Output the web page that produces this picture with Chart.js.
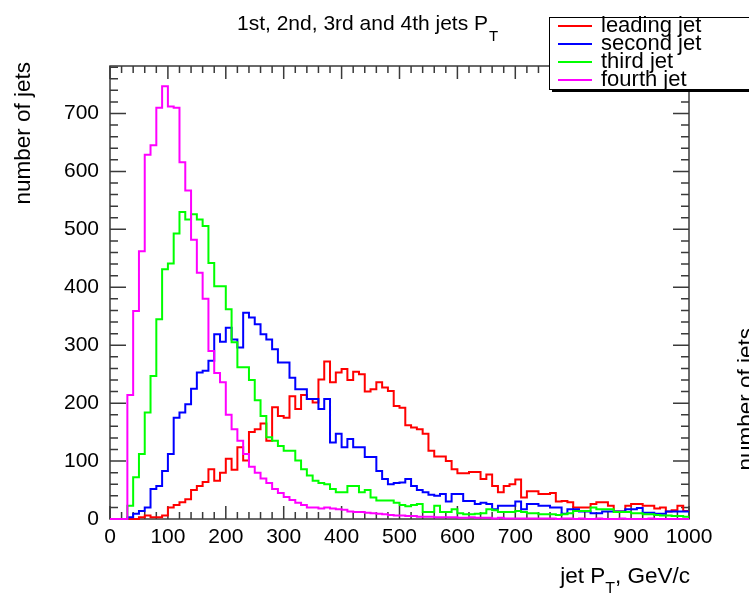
<!DOCTYPE HTML>
<html>
	<head>
		<title>Jet pT spectra</title>
		<meta charset="utf-8" />
		<style>
			html, body { margin: 0; padding: 0; background: #fff; }
			#wrap { width: 749px; height: 593px; }
		</style>
	</head>
	<body>
		<div id="wrap"><canvas id="jets" width="749" height="593"></canvas></div>

		<script src="https://cdn.jsdelivr.net/npm/chart.js"></script>
		<script>
			// histogram: 100 bins of 10 GeV from 0 to 1000
			const binWidth = 10;
			const seriesNames = ["leading jet", "second jet", "third jet", "fourth jet"];
			const seriesColors = ["#ff0000", "#0000ff", "#00ff00", "#ff00ff"];
			const xTicks = [0, 100, 200, 300, 400, 500, 600, 700, 800, 900, 1000];
			const yTicks = [0, 100, 200, 300, 400, 500, 600, 700];

			const leadingJet = [
				0, 0, 0, 0, 0, 3, 6, 3, 3, 6,
				20, 24, 29, 34, 50, 57, 64, 86, 66, 80,
				104, 85, 124, 101, 150, 155, 165, 135, 193, 178,
				175, 212, 190, 214, 207, 201, 241, 272, 236, 253,
				259, 240, 254, 250, 220, 224, 236, 227, 221, 195,
				192, 162, 158, 155, 147, 118, 108, 108, 100, 86,
				79, 79, 81, 81, 69, 77, 57, 46, 57, 60,
				68, 37, 48, 48, 43, 43, 45, 30, 31, 29,
				20, 20, 20, 26, 29, 29, 23, 13, 13, 23,
				26, 26, 23, 23, 18, 20, 13, 15, 23, 14
			];
			const secondJet = [
				0, 0, 0, 3, 9, 14, 20, 52, 57, 83,
				112, 175, 184, 198, 225, 253, 256, 273, 319, 306,
				330, 310, 296, 356, 348, 336, 319, 310, 293, 270,
				270, 244, 224, 224, 207, 207, 190, 207, 132, 147,
				124, 138, 124, 124, 107, 107, 83, 69, 60, 62,
				63, 69, 57, 50, 46, 42, 40, 43, 30, 43,
				43, 31, 31, 26, 28, 26, 17, 23, 23, 23,
				30, 17, 26, 26, 23, 23, 20, 20, 9, 17,
				17, 13, 13, 10, 10, 13, 13, 13, 13, 17,
				17, 19, 11, 11, 9, 9, 13, 13, 13, 13
			];
			const thirdJet = [
				0, 0, 0, 23, 72, 112, 184, 247, 345, 431,
				441, 493, 530, 517, 526, 517, 506, 442, 402, 402,
				362, 305, 262, 262, 240, 205, 178, 141, 135, 126,
				118, 118, 101, 86, 75, 66, 62, 60, 52, 46,
				46, 57, 57, 46, 50, 37, 32, 32, 32, 28,
				24, 22, 24, 26, 12, 12, 23, 12, 12, 17,
				10, 8, 8, 9, 10, 17, 15, 12, 12, 12,
				14, 12, 10, 10, 8, 8, 8, 7, 8, 10,
				14, 14, 14, 20, 17, 17, 17, 12, 12, 12,
				10, 10, 8, 8, 7, 6, 6, 5, 5, 4
			];
			const fourthJet = [
				0, 0, 0, 214, 359, 462, 629, 645, 710, 747,
				712, 710, 616, 567, 482, 425, 380, 290, 252, 236,
				180, 155, 135, 112, 90, 80, 70, 62, 52, 45,
				38, 33, 28, 24, 20, 20, 18, 20, 18, 17,
				16, 13, 12, 12, 11, 10, 9, 8, 7, 6,
				6, 5, 5, 4, 4, 4, 3, 3, 3, 3,
				2, 2, 3, 2, 2, 2, 1, 2, 1, 1,
				1, 1, 1, 1, 1, 1, 1, 0, 1, 1,
				0, 1, 0, 0, 1, 0, 0, 0, 1, 0,
				0, 0, 0, 1, 0, 0, 0, 0, 0, 0
			];

			const FONT = '"Liberation Sans", Arial, Helvetica, sans-serif';

			// step points at the lower bin edges, closed at the upper edge of the last bin
			function histPoints(counts) {
				const pts = counts.map((c, i) => ({ x: i * binWidth, y: c }));
				pts.push({ x: counts.length * binWidth, y: counts[counts.length - 1] });
				return pts;
			}

			const allSeries = [leadingJet, secondJet, thirdJet, fourthJet];

			// frame with ROOT style inner ticks on all four sides
			const rootFrame = {
				id: 'rootFrame',
				beforeDatasetsDraw(chart) {
					const { ctx, chartArea: a, scales: { x, y } } = chart;
					ctx.save();
					ctx.strokeStyle = '#3a3a3a';
					ctx.lineWidth = 1.5;
					ctx.strokeRect(a.left, a.top, a.right - a.left, a.bottom - a.top);
					ctx.beginPath();
					for (let v = 0; v <= 1000; v += 20) {
						const px = x.getPixelForValue(v);
						const len = v % 100 === 0 ? 13 : 7;
						ctx.moveTo(px, a.bottom); ctx.lineTo(px, a.bottom - len);
						ctx.moveTo(px, a.top); ctx.lineTo(px, a.top + len);
					}
					for (let v = 0; v <= y.max; v += 20) {
						const py = y.getPixelForValue(v);
						const len = v % 100 === 0 ? 16 : 8;
						ctx.moveTo(a.left, py); ctx.lineTo(a.left + len, py);
						ctx.moveTo(a.right, py); ctx.lineTo(a.right - len, py);
					}
					ctx.stroke();
					ctx.restore();
				},
				afterDraw(chart) {
					const { ctx } = chart;
					ctx.save();
					ctx.fillStyle = '#000';
					ctx.textBaseline = 'alphabetic';

					// title with subscript T
					ctx.font = '21px ' + FONT;
					ctx.textAlign = 'left';
					const title = '1st, 2nd, 3rd and 4th jets P';
					ctx.fillText(title, 237, 30);
					const tw = ctx.measureText(title).width;
					ctx.font = '15px ' + FONT;
					ctx.fillText('T', 237 + tw + 1, 41);

					// x axis title, right aligned with the frame
					const big = '22.5px ' + FONT, small = '16px ' + FONT;
					const xa = 'jet P', xb = ', GeV/c';
					ctx.font = big;
					const wa = ctx.measureText(xa).width, wb = ctx.measureText(xb).width;
					ctx.font = small;
					const ws = ctx.measureText('T').width;
					const x0 = 690 - (wa + ws + wb);
					ctx.font = big;
					ctx.fillText(xa, x0, 583);
					ctx.font = small;
					ctx.fillText('T', x0 + wa, 594);
					ctx.font = big;
					ctx.fillText(xb, x0 + wa + ws, 583);

					// y axis title
					ctx.save();
					ctx.translate(30, 62);
					ctx.rotate(-Math.PI / 2);
					ctx.textAlign = 'right';
					ctx.fillText('number of jets', 0, 0);
					ctx.restore();

					// cut-off title of the neighbouring pad
					ctx.save();
					ctx.translate(753, 328);
					ctx.rotate(-Math.PI / 2);
					ctx.textAlign = 'right';
					ctx.fillText('number of jets', 0, 0);
					ctx.restore();

					// legend box with shadow
					const lx = 549, ly = 17, lw = 260, lh = 72;
					ctx.fillStyle = '#000';
					ctx.fillRect(lx + 3, ly + lh, lw, 3);
					ctx.fillStyle = '#fff';
					ctx.fillRect(lx, ly, lw, lh);
					ctx.strokeStyle = '#000';
					ctx.lineWidth = 1;
					ctx.strokeRect(lx + 0.5, ly + 0.5, lw, lh);
					ctx.font = '22px ' + FONT;
					ctx.textBaseline = 'middle';
					ctx.textAlign = 'left';
					chart.data.datasets.forEach((ds, i) => {
						const yy = 26 + i * 18;
						ctx.strokeStyle = ds.borderColor;
						ctx.lineWidth = 2;
						ctx.beginPath();
						ctx.moveTo(558, yy); ctx.lineTo(592, yy);
						ctx.stroke();
						ctx.fillStyle = '#000';
						ctx.fillText(ds.label, 601, yy);
					});
					ctx.restore();
				}
			};

			new Chart(document.getElementById('jets').getContext('2d'), {
				type: 'line',
				data: {
					datasets: allSeries.map((s, i) => ({
						label: seriesNames[i],
						data: histPoints(s),
						borderColor: seriesColors[i],
						borderWidth: 2,
						stepped: 'before',
						pointRadius: 0,
						fill: false,
						clip: 2,
						order: 4 - i
					}))
				},
				options: {
					responsive: false,
					animation: false,
					layout: { padding: { left: 0, top: 66, right: 60, bottom: 0 } },
					plugins: { legend: { display: false }, tooltip: { enabled: false } },
					scales: {
						x: {
							type: 'linear',
							min: 0,
							max: 1000,
							afterBuildTicks: s => { s.ticks = xTicks.map(v => ({ value: v })); },
							afterFit: s => { s.height = 74; },
							grid: { display: false, drawTicks: false },
							border: { display: false },
							ticks: {
								color: '#000', font: { family: FONT, size: 21 }, padding: 6,
								maxRotation: 0, autoSkip: false,
								callback: v => String(v)
							}
						},
						y: {
							type: 'linear',
							min: 0,
							max: 782,
							afterBuildTicks: s => { s.ticks = yTicks.map(v => ({ value: v })); },
							afterFit: s => { s.width = 110; },
							grid: { display: false, drawTicks: false },
							border: { display: false },
							ticks: {
								color: '#000', font: { family: FONT, size: 21 }, padding: 11,
								callback: v => String(v)
							}
						}
					}
				},
				plugins: [rootFrame]
			});
		</script>
	</body>
</html>
